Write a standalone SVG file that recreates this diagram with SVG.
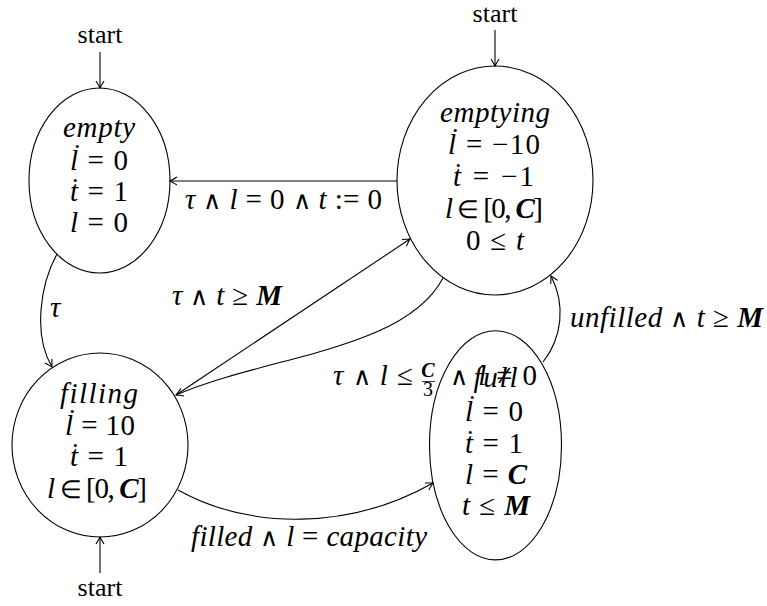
<svg xmlns="http://www.w3.org/2000/svg" width="767" height="606" viewBox="0 0 767 606" font-family="'Liberation Serif', 'Times New Roman', 'DejaVu Serif', serif">
<style>
.nd { fill: none; stroke: #000; stroke-width: 1.1; }
.e { fill: none; stroke: #000; stroke-width: 1.1; marker-end: url(#arr); }
text { font-family: 'Liberation Serif', 'Times New Roman', 'DejaVu Serif', serif; fill: #000; }
.m { font-size: 29px; }
.s { font-size: 26px; }
.f { font-size: 20px; }
.d { font-size: 26px; }
.i { font-style: italic; }
.b { font-style: italic; font-weight: bold; }
.w { font-family: 'DejaVu Sans', sans-serif; font-weight: 200; font-size: 25px; }
</style>
<defs>
<marker id="arr" viewBox="-10 -6 12 12" refX="0" refY="0" markerWidth="12" markerHeight="12" orient="auto" markerUnits="userSpaceOnUse">
<path d="M-7,-4 Q-2,-1 0,0 Q-2,1 -7,4" fill="none" stroke="#000" stroke-width="1.1"/>
</marker>
</defs>

<g id="connectors">
<g id="start-empty"><text class="s" x="100" y="43" text-anchor="middle">start</text><line class="e" x1="100" y1="52" x2="100" y2="88"/></g>
<g id="start-emptying"><text class="s" x="495" y="22" text-anchor="middle">start</text><line class="e" x1="495" y1="30" x2="495" y2="66"/></g>
<g id="start-filling"><text class="s" x="100" y="596" text-anchor="middle">start</text><line class="e" x1="100" y1="573" x2="100" y2="537"/></g>
<g id="emptying-empty"><line class="e" x1="397" y1="181" x2="170" y2="181"/>
<text class="m" x="185" y="209" textLength="197"><tspan class="i">τ</tspan> <tspan class="w">∧</tspan> <tspan class="i">l</tspan> = 0 <tspan class="w">∧</tspan> <tspan class="i">t</tspan> := 0</text></g>
<g id="empty-filling"><path class="e" d="M57,254 C40,285 33,335 52,367"/>
<text class="m i" x="50" y="317">τ</text></g>
<g id="filling-emptying"><line class="e" x1="176" y1="395" x2="410" y2="239"/>
<text class="m" x="172" y="305" textLength="110"><tspan class="i">τ</tspan> <tspan class="w">∧</tspan> <tspan class="i">t</tspan> ≥ <tspan class="b">M</tspan></text></g>
<g id="emptying-filling"><path class="e" d="M443,278 C405,350 270,355 176,395"/>
<text class="m" x="333" y="385" textLength="80"><tspan class="i">τ</tspan> <tspan class="w">∧</tspan> <tspan class="i">l</tspan> ≤</text>
<text class="f b" x="428" y="377" text-anchor="middle">C</text>
<line x1="422" y1="381.5" x2="435" y2="381.5" stroke="#000" stroke-width="0.8"/>
<text class="f" x="428" y="396" text-anchor="middle">3</text>
<text class="m" x="450" y="385" textLength="87"><tspan class="w">∧</tspan> <tspan class="i">l</tspan> ≠ 0</text></g>
<g id="filling-full"><path class="e" d="M178,490 C250,530 350,530 433,483"/>
<text class="m" x="191" y="546" textLength="236"><tspan class="i">filled</tspan> <tspan class="w">∧</tspan> <tspan class="i">l</tspan> = <tspan class="i">capacity</tspan></text></g>
<g id="full-emptying"><path class="e" d="M543,362 C562,338 566,305 551,276"/>
<text class="m" x="570" y="327" textLength="193"><tspan class="i">unfilled</tspan> <tspan class="w">∧</tspan> <tspan class="i">t</tspan> ≥ <tspan class="b">M</tspan></text></g>
</g>

<g id="empty">
<ellipse class="nd" cx="99.5" cy="180.5" rx="70.5" ry="92.5"/>
<text class="m i" x="63" y="137" textLength="72">empty</text>
<text class="m" x="70" y="170" textLength="58"><tspan class="i">l</tspan> = 0</text><text class="d" x="74" y="148">.</text>
<text class="m" x="70" y="201" textLength="58"><tspan class="i">t</tspan> = 1</text><text class="d" x="72" y="182">.</text>
<text class="m" x="70" y="232" textLength="58"><tspan class="i">l</tspan> = 0</text>
</g>

<g id="emptying">
<ellipse class="nd" cx="495" cy="180.5" rx="98" ry="114.5"/>
<text class="m i" x="440" y="122" textLength="110">emptying</text>
<text class="m" x="448" y="154" textLength="92"><tspan class="i">l</tspan> = −10</text><text class="d" x="452" y="132">.</text>
<text class="m" x="453" y="186" textLength="81"><tspan class="i">t</tspan> = −1</text><text class="d" x="455" y="167">.</text>
<text class="m" x="445" y="218" textLength="98"><tspan class="i">l</tspan> <tspan class="w">∈</tspan> [0, <tspan class="b">C</tspan>]</text>
<text class="m" x="466" y="250" textLength="58">0 ≤ <tspan class="i">t</tspan></text>
</g>

<g id="filling">
<ellipse class="nd" cx="100" cy="445" rx="88" ry="92"/>
<text class="m i" x="60" y="403" textLength="78">filling</text>
<text class="m" x="65" y="435" textLength="70"><tspan class="i">l</tspan> = 10</text><text class="d" x="69" y="413">.</text>
<text class="m" x="70" y="466" textLength="58"><tspan class="i">t</tspan> = 1</text><text class="d" x="72" y="447">.</text>
<text class="m" x="47" y="498" textLength="100"><tspan class="i">l</tspan> <tspan class="w">∈</tspan> [0, <tspan class="b">C</tspan>]</text>
</g>

<g id="full">
<ellipse class="nd" cx="495.5" cy="445.3" rx="66" ry="114.6"/>
<text class="m i" x="495.5" y="387" text-anchor="middle" textLength="44">full</text>
<text class="m" x="465" y="421" textLength="58"><tspan class="i">l</tspan> = 0</text><text class="d" x="469" y="399">.</text>
<text class="m" x="465" y="453" textLength="58"><tspan class="i">t</tspan> = 1</text><text class="d" x="467" y="434">.</text>
<text class="m" x="465" y="484" textLength="62"><tspan class="i">l</tspan> = <tspan class="b">C</tspan></text>
<text class="m" x="462" y="515" textLength="68"><tspan class="i">t</tspan> ≤ <tspan class="b">M</tspan></text>
</g>
</svg>
